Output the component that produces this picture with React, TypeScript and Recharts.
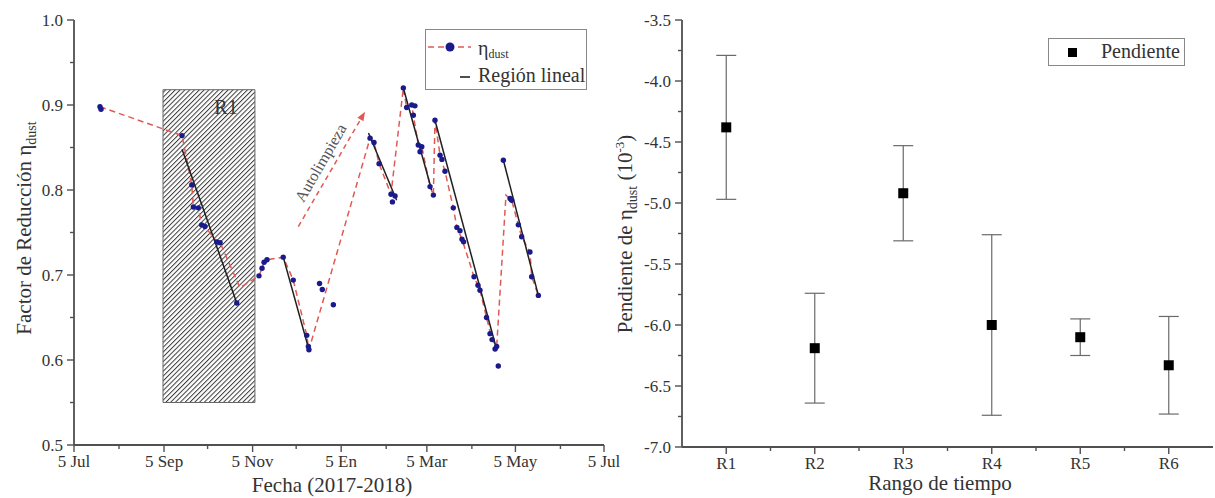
import React from 'react';
import {
  ComposedChart,
  Scatter,
  Line,
  XAxis,
  YAxis,
  ReferenceArea,
  ReferenceLine,
  ErrorBar,
  Legend,
} from 'recharts';

const FONT = '"Liberation Serif", "Times New Roman", serif';
const AXIS = '#505050';
const TEXT = '#333';

// ---- panel (a): days counted from 5 Jul 2017 ----
const monthTickDays = [0, 31, 62, 92, 123, 153, 184, 215, 243, 274, 304, 335, 365];
const monthTickLabels = ['5 Jul', '', '5 Sep', '', '5 Nov', '', '5 En', '', '5 Mar', '', '5 May', '', '5 Jul'];
const etaTicks = [0.5, 0.55, 0.6, 0.65, 0.7, 0.75, 0.8, 0.85, 0.9, 0.95, 1.0];

// measured reduction factor (blue dots)
const etaDays = [
  17.9, 18.6, 74.4, 81.1, 82.2, 85.6, 87.9, 90.2, 98.3, 100.6, 112.1,
  127.4, 129.5, 130.9, 132.9, 144.1, 151.0, 160.3, 161.4, 161.8,
  169.1, 171.0, 178.6,
  203.9, 206.6, 210.1, 218.3, 219.3, 221.1,
  226.8, 229.1, 232.6, 234.8, 233.7, 237.1, 238.3, 239.5, 245.2, 247.5,
  248.6, 252.1, 253.4, 255.5, 261.2, 263.7, 265.8, 267.2, 268.3, 275.5, 278.2, 279.6,
  284.1, 286.5, 287.9, 290.0, 291.1, 292.2,
  295.7, 300.3, 301.4, 306.0, 308.3, 314.0, 315.2, 319.8,
];
const etaValues = [
  0.898, 0.895, 0.864, 0.806, 0.780, 0.779, 0.759, 0.757, 0.739, 0.738, 0.667,
  0.699, 0.708, 0.715, 0.718, 0.721, 0.694, 0.629, 0.616, 0.612,
  0.690, 0.683, 0.665,
  0.861, 0.856, 0.831, 0.795, 0.786, 0.793,
  0.920, 0.897, 0.900, 0.899, 0.888, 0.853, 0.845, 0.851, 0.804, 0.794,
  0.882, 0.841, 0.836, 0.822, 0.779, 0.756, 0.752, 0.742, 0.739, 0.698, 0.688, 0.682,
  0.650, 0.631, 0.624, 0.613, 0.616, 0.593,
  0.835, 0.790, 0.788, 0.759, 0.745, 0.727, 0.698, 0.676,
];

// red dashed trace
const trendDays = [
  17.9, 74.4, 81.1, 82.2, 85.6, 87.9, 90.2, 98.3, 100.6, 114.3, 127.4, 129.5, 130.9, 132.9,
  144.1, 151.0, 160.3, 161.4, 161.8, 203.9, 206.6, 210.1, 218.3, 226.8, 229.1, 232.6, 233.7,
  237.1, 239.5, 245.2, 247.5, 248.6, 252.1, 255.5, 261.2, 263.7, 267.2, 275.5, 279.6, 284.1,
  287.9, 291.1, 297.5, 301.4, 306.0, 308.3, 314.0, 315.2, 319.8,
];
const trendValues = [
  0.898, 0.864, 0.806, 0.780, 0.779, 0.759, 0.757, 0.739, 0.738, 0.685, 0.699, 0.708, 0.715, 0.718,
  0.721, 0.694, 0.629, 0.616, 0.612, 0.861, 0.856, 0.831, 0.795, 0.920, 0.897, 0.900, 0.888,
  0.853, 0.851, 0.804, 0.794, 0.882, 0.841, 0.822, 0.779, 0.756, 0.742, 0.698, 0.682, 0.650,
  0.624, 0.616, 0.794, 0.788, 0.759, 0.745, 0.727, 0.698, 0.676,
];

// linear regions (black fits)
const fitStartDays = [74.4, 144.1, 202.8, 226.8, 248.6, 295.7];
const fitStartValues = [0.848, 0.721, 0.867, 0.920, 0.882, 0.835];
const fitEndDays = [112.1, 161.8, 222.2, 246.3, 291.1, 319.8];
const fitEndValues = [0.667, 0.612, 0.788, 0.800, 0.612, 0.676];

const r1Days = [61.3, 124.6];
const r1Values = [0.55, 0.918];
const cleanArrowDays = [154.5, 200.4];
const cleanArrowValues = [0.757, 0.892];

// ---- panel (b) ----
const ranges = ['R1', 'R2', 'R3', 'R4', 'R5', 'R6'];
const slopeValues = [-4.38, -6.19, -4.92, -6.0, -6.1, -6.33];
const slopeErrors = [0.59, 0.45, 0.39, 0.74, 0.15, 0.4];
const rangeTicks = [1, 1.5, 2, 2.5, 3, 3.5, 4, 4.5, 5, 5.5, 6];
const slopeTicks = [-7, -6.75, -6.5, -6.25, -6, -5.75, -5.5, -5.25, -5, -4.75, -4.5, -4.25, -4, -3.75, -3.5];

const etaPoints = etaDays.map((d, i) => ({ d, v: etaValues[i] }));
const trendPoints = trendDays.map((d, i) => ({ d, v: trendValues[i] }));
const fitSegments = fitStartDays.map((d, i) => [
  { d, v: fitStartValues[i] },
  { d: fitEndDays[i], v: fitEndValues[i] },
]);
const slopePoints = ranges.map((r, i) => ({ x: i + 1, v: slopeValues[i], err: slopeErrors[i] }));

type Side = 'bottom' | 'top' | 'left' | 'right';

const makeTick = (side: Side, edge: number, labelOf: (v: number) => string, isMajor: (v: number) => boolean) =>
  (props: any) => {
    const v = props.payload.value;
    const len = isMajor(v) ? 7 : 4;
    const label = labelOf(v);
    const common = { stroke: AXIS, strokeWidth: 1.4 };
    const txt = { fontFamily: FONT, fontSize: 17, fill: TEXT };
    if (side === 'bottom') {
      return (
        <g>
          <line x1={props.x} x2={props.x} y1={edge} y2={edge + len} {...common} />
          {label && <text x={props.x} y={edge + 22} textAnchor="middle" {...txt}>{label}</text>}
        </g>
      );
    }
    if (side === 'top') {
      return <line x1={props.x} x2={props.x} y1={edge} y2={edge + len - 1} {...common} />;
    }
    if (side === 'right') {
      return <line x1={edge - len + 1} x2={edge} y1={props.y} y2={props.y} {...common} />;
    }
    return (
      <g>
        <line x1={edge - len} x2={edge} y1={props.y} y2={props.y} {...common} />
        {label && <text x={edge - 11} y={props.y + 6} textAnchor="end" {...txt}>{label}</text>}
      </g>
    );
  };

const near = (a: number, b: number) => Math.abs(a - b) < 1e-6;
const axisLine = { stroke: AXIS, strokeWidth: 1.8 };

const LegendA = () => (
  <svg width={162} height={61} style={{ display: 'block' }}>
    <rect x={0.5} y={0.5} width={161} height={60} fill="#fff" stroke="#888" />
    <line x1={3} x2={46} y1={18} y2={18} stroke="#e05a55" strokeWidth={1.6} strokeDasharray="6 4" />
    <circle cx={25} cy={18} r={4.5} fill="#1a1a8c" />
    <text x={53} y={26} fontFamily={FONT} fontSize={20} fill={TEXT}>
      η<tspan fontSize={12} dy={3}>dust</tspan>
    </text>
    <line x1={35} x2={45} y1={48} y2={48} stroke="#222" strokeWidth={1.6} />
    <text x={53} y={53} fontFamily={FONT} fontSize={20} fill={TEXT}>Región lineal</text>
  </svg>
);

const LegendB = () => (
  <svg width={137} height={28} style={{ display: 'block' }}>
    <rect x={0.5} y={0.5} width={136} height={27} fill="#fff" stroke="#888" />
    <rect x={20} y={10} width={9} height={9} fill="#000" />
    <text x={53} y={20} fontFamily={FONT} fontSize={20} fill={TEXT}>Pendiente</text>
  </svg>
);

const ArrowShape = (p: any) => {
  const { x1, y1, x2, y2 } = p;
  const len = Math.hypot(x2 - x1, y2 - y1);
  const ux = (x2 - x1) / len;
  const uy = (y2 - y1) / len;
  const nx = uy;
  const ny = -ux;
  const ang = (Math.atan2(uy, ux) * 180) / Math.PI;
  const hx = x2 - ux * 9;
  const hy = y2 - uy * 9;
  const tx = x1 + ux * len * 0.5 + nx * 11;
  const ty = y1 + uy * len * 0.5 + ny * 11;
  return (
    <g>
      <line x1={x1} y1={y1} x2={hx} y2={hy} stroke="#e05a55" strokeWidth={1.5} strokeDasharray="5 4" />
      <polygon
        points={`${x2},${y2} ${hx + nx * 3.5},${hy + ny * 3.5} ${hx - nx * 3.5},${hy - ny * 3.5}`}
        fill="#e05a55"
      />
      <text
        x={tx}
        y={ty}
        transform={`rotate(${ang}, ${tx}, ${ty})`}
        textAnchor="middle"
        dominantBaseline="middle"
        fontFamily={FONT}
        fontSize={16}
        fill="#555"
      >
        Autolimpieza
      </text>
    </g>
  );
};

function PanelA() {
  return (
    <ComposedChart width={640} height={498} margin={{ top: 20, right: 36, bottom: 23, left: 0 }}>
      <XAxis
        type="number"
        dataKey="d"
        domain={[0, 365]}
        allowDataOverflow
        ticks={monthTickDays}
        interval={0}
        height={30}
        tickLine={false}
        axisLine={axisLine}
        tick={makeTick('bottom', 445, (v) => monthTickLabels[monthTickDays.indexOf(v)] || '', (v) => monthTickLabels[monthTickDays.indexOf(v)] !== '')}
        label={{
          content: () => (
            <text x={332} y={492} textAnchor="middle" fontFamily={FONT} fontSize={21} fill={TEXT}>
              Fecha (2017-2018)
            </text>
          ),
        }}
      />
      <XAxis
        xAxisId="top"
        orientation="top"
        mirror
        height={0}
        type="number"
        dataKey="d"
        domain={[0, 365]}
        allowDataOverflow
        ticks={monthTickDays}
        interval={0}
        tickLine={false}
        axisLine={axisLine}
        tick={makeTick('top', 20, () => '', () => true)}
        label={{
          content: () => (
            <text x={88} y={52} fontFamily={FONT} fontSize={19} fill={TEXT}>(a)</text>
          ),
        }}
      />
      <YAxis
        type="number"
        dataKey="v"
        domain={[0.5, 1]}
        allowDataOverflow
        ticks={etaTicks}
        interval={0}
        width={74}
        tickLine={false}
        axisLine={axisLine}
        tick={makeTick('left', 74, (v) => (near(v * 10, Math.round(v * 10)) ? v.toFixed(1) : ''), (v) => near(v * 10, Math.round(v * 10)))}
        label={{
          content: () => (
            <text
              x={31}
              y={228}
              transform="rotate(-90, 31, 228)"
              textAnchor="middle"
              fontFamily={FONT}
              fontSize={21}
              fill={TEXT}
            >
              Factor de Reducción η<tspan fontSize={14} dy={5}>dust</tspan>
            </text>
          ),
        }}
      />
      <YAxis
        yAxisId="right"
        orientation="right"
        mirror
        width={0}
        type="number"
        dataKey="v"
        domain={[0.5, 1]}
        allowDataOverflow
        ticks={etaTicks}
        interval={0}
        tickLine={false}
        axisLine={axisLine}
        tick={makeTick('right', 604, () => '', () => true)}
      />
      <ReferenceArea
        x1={r1Days[0]}
        x2={r1Days[1]}
        y1={r1Values[0]}
        y2={r1Values[1]}
        fill="url(#hatchR1)"
        fillOpacity={1}
        stroke="#666"
        strokeWidth={1}
        label={{
          content: (p: any) => {
            const vb = p.viewBox || { x: 163, y: 90, width: 92 };
            return (
              <text x={vb.x + vb.width * 0.685} y={vb.y + 24} textAnchor="middle" fontFamily={FONT} fontSize={20} fill="#333">
                R1
              </text>
            );
          },
        }}
      />
      <ReferenceLine
        segment={[
          { x: cleanArrowDays[0], y: cleanArrowValues[0] },
          { x: cleanArrowDays[1], y: cleanArrowValues[1] },
        ]}
        shape={ArrowShape}
        ifOverflow="visible"
      />
      <Line
        data={trendPoints}
        dataKey="v"
        type="linear"
        stroke="#e05a55"
        strokeWidth={1.5}
        strokeDasharray="6 4"
        dot={false}
        activeDot={false}
        isAnimationActive={false}
      />
      <Scatter
        data={etaPoints}
        fill="#1a1a8c"
        isAnimationActive={false}
        shape={(p: any) => <circle cx={p.cx} cy={p.cy} r={2.7} fill="#1a1a8c" />}
      />
      {fitSegments.map((seg, i) => (
        <Line
          key={i}
          data={seg}
          dataKey="v"
          type="linear"
          stroke="#1f1f1f"
          strokeWidth={1.5}
          dot={false}
          activeDot={false}
          isAnimationActive={false}
        />
      ))}
      <Legend
        layout="horizontal"
        verticalAlign="middle"
        align="center"
        content={LegendA}
        wrapperStyle={{ left: 425, top: 29, width: 162, height: 61 }}
      />
    </ComposedChart>
  );
}

function PanelB() {
  return (
    <ComposedChart width={615} height={498} margin={{ top: 20, right: 2, bottom: 21, left: 0 }}>
      <XAxis
        type="number"
        dataKey="x"
        domain={[0.5, 6.5]}
        allowDataOverflow
        ticks={rangeTicks}
        interval={0}
        height={30}
        tickLine={false}
        axisLine={axisLine}
        tick={makeTick('bottom', 447, (v) => (Number.isInteger(v) ? ranges[v - 1] : ''), (v) => Number.isInteger(v))}
        label={{
          content: () => (
            <text x={340} y={490} textAnchor="middle" fontFamily={FONT} fontSize={21} fill={TEXT}>
              Rango de tiempo
            </text>
          ),
        }}
      />
      <XAxis
        xAxisId="top"
        orientation="top"
        mirror
        height={0}
        type="number"
        dataKey="x"
        domain={[0.5, 6.5]}
        allowDataOverflow
        ticks={rangeTicks}
        interval={0}
        tickLine={false}
        axisLine={axisLine}
        tick={makeTick('top', 20, () => '', () => true)}
        label={{
          content: () => (
            <text x={92} y={52} fontFamily={FONT} fontSize={19} fill={TEXT}>(b)</text>
          ),
        }}
      />
      <YAxis
        type="number"
        dataKey="v"
        domain={[-7, -3.5]}
        allowDataOverflow
        ticks={slopeTicks}
        interval={0}
        width={82}
        tickLine={false}
        axisLine={axisLine}
        tick={makeTick('left', 82, (v) => (near(v * 2, Math.round(v * 2)) ? v.toFixed(1) : ''), (v) => near(v * 2, Math.round(v * 2)))}
        label={{
          content: () => (
            <text
              x={32}
              y={234}
              transform="rotate(-90, 32, 234)"
              textAnchor="middle"
              fontFamily={FONT}
              fontSize={21}
              fill={TEXT}
            >
              Pendiente de η<tspan fontSize={14} dy={5}>dust</tspan>
              <tspan fontSize={21} dy={-5}> (10</tspan>
              <tspan fontSize={13} dy={-8}>-3</tspan>
              <tspan fontSize={21} dy={8}>)</tspan>
            </text>
          ),
        }}
      />
      <YAxis
        yAxisId="right"
        orientation="right"
        mirror
        width={0}
        type="number"
        dataKey="v"
        domain={[-7, -3.5]}
        allowDataOverflow
        ticks={slopeTicks}
        interval={0}
        tickLine={false}
        axisLine={axisLine}
        tick={makeTick('right', 613, () => '', () => true)}
      />
      <Scatter
        data={slopePoints}
        fill="#000"
        isAnimationActive={false}
        shape={(p: any) => <rect x={p.cx - 5} y={p.cy - 5} width={10} height={10} fill="#000" />}
      >
        <ErrorBar dataKey="err" direction="y" width={10} stroke="#6a6a6a" strokeWidth={1.2} isAnimationActive={false} />
      </Scatter>
      <Legend
        layout="horizontal"
        verticalAlign="middle"
        align="center"
        content={LegendB}
        wrapperStyle={{ left: 448, top: 38, width: 137, height: 28 }}
      />
    </ComposedChart>
  );
}

export default function App() {
  return (
    <div style={{ position: 'absolute', left: 0, top: 0, width: 1215, height: 498, background: '#fff', overflow: 'hidden' }}>
      <svg width={0} height={0} style={{ position: 'absolute' }}>
        <defs>
          <pattern id="hatchR1" width={3.4} height={3.4} patternUnits="userSpaceOnUse" patternTransform="rotate(45)">
            <rect width={3.4} height={3.4} fill="#fff" />
            <line x1={0.5} y1={0} x2={0.5} y2={3.4} stroke="#3a3a3a" strokeWidth={1} />
          </pattern>
        </defs>
      </svg>
      <div style={{ position: 'absolute', left: 0, top: 0 }}>
        <PanelA />
      </div>
      <div style={{ position: 'absolute', left: 600, top: 0 }}>
        <PanelB />
      </div>
    </div>
  );
}
